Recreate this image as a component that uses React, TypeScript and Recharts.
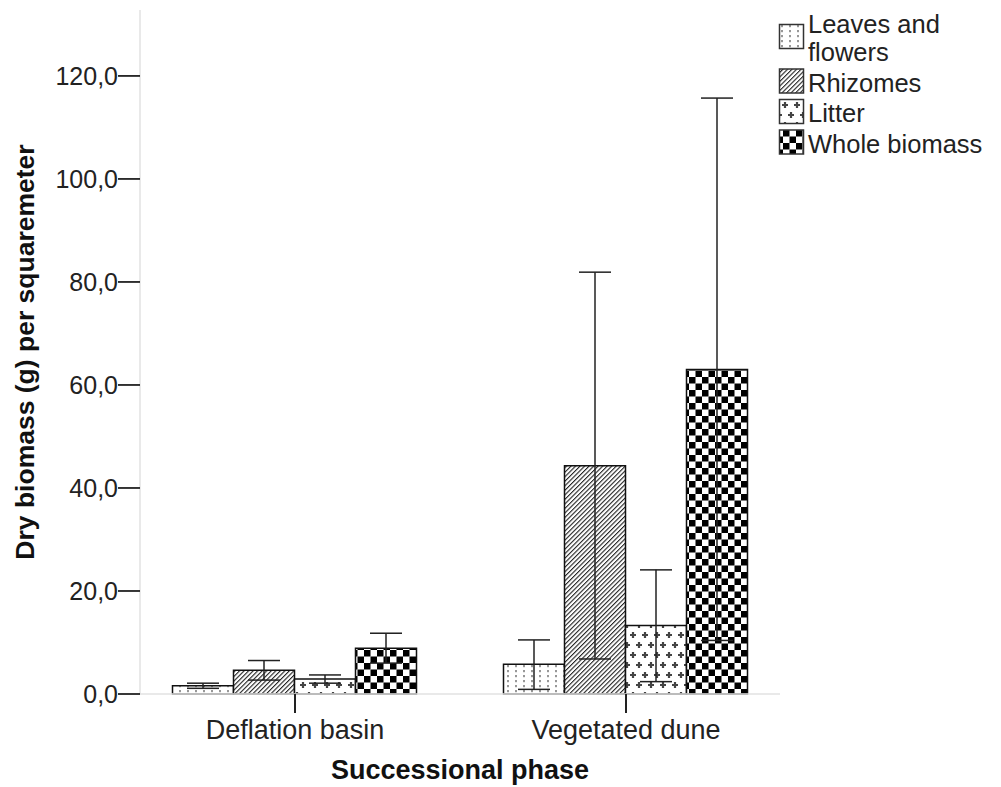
import React from 'react';
import { BarChart, Bar, XAxis, YAxis, ErrorBar, Legend } from 'recharts';

const PHASES = ['Deflation basin', 'Vegetated dune'];

// mean per phase, and the lower / upper ends of its error bar
const LEAVES = [1.6, 5.8];
const LEAVES_LO = [1.1, 0.9];
const LEAVES_HI = [2.1, 10.5];

const RHIZOMES = [4.6, 44.3];
const RHIZOMES_LO = [2.7, 6.8];
const RHIZOMES_HI = [6.5, 81.9];

const LITTER = [2.9, 13.3];
const LITTER_LO = [2.1, 2.4];
const LITTER_HI = [3.7, 24.1];

const WHOLE = [8.9, 63.0];
const WHOLE_LO = [6.0, 10.4];
const WHOLE_HI = [11.8, 115.7];

const Y_TICKS = [0, 20, 40, 60, 80, 100, 120];

const FONT = '"Liberation Sans", Arial, sans-serif';

const SERIES = [
  { key: 'leaves', name: 'Leaves and flowers', mean: LEAVES, lo: LEAVES_LO, hi: LEAVES_HI },
  { key: 'rhizomes', name: 'Rhizomes', mean: RHIZOMES, lo: RHIZOMES_LO, hi: RHIZOMES_HI },
  { key: 'litter', name: 'Litter', mean: LITTER, lo: LITTER_LO, hi: LITTER_HI },
  { key: 'whole', name: 'Whole biomass', mean: WHOLE, lo: WHOLE_LO, hi: WHOLE_HI },
];

const FILLS: Record<string, string> = {
  leaves: 'url(#pat-dots)',
  rhizomes: 'url(#pat-hatch)',
  litter: 'url(#pat-plus)',
  whole: 'url(#pat-check)',
};

const data = PHASES.map((phase, i) => {
  const row: Record<string, any> = { phase };
  SERIES.forEach((s) => {
    row[s.key] = s.mean[i];
    row[s.key + 'Err'] = [s.mean[i] - s.lo[i], s.hi[i] - s.mean[i]];
  });
  return row;
});

const fmt = (v: number) => v.toFixed(1).replace('.', ',');

const PatternDefs = () => (
  <svg width={0} height={0} style={{ position: 'absolute' }}>
    <defs>
      <pattern id="pat-dots" width={8} height={5} patternUnits="userSpaceOnUse">
        <rect width={8} height={5} fill="#fff" />
        <rect x={3.4} y={0} width={1.2} height={2.2} fill="#555" />
      </pattern>
      <pattern id="pat-hatch" width={3.2} height={10} patternUnits="userSpaceOnUse" patternTransform="rotate(45)">
        <rect width={3.2} height={10} fill="#fff" />
        <rect x={0} y={0} width={1.1} height={10} fill="#222" />
      </pattern>
      <pattern id="pat-plus" width={12} height={20} patternUnits="userSpaceOnUse">
        <rect width={12} height={20} fill="#fff" />
        <path d="M3 2v6M0 5h6M9 12v6M6 15h6" stroke="#444" strokeWidth={2.2} />
      </pattern>
      <pattern id="pat-check" width={13} height={13} patternUnits="userSpaceOnUse">
        <rect width={13} height={13} fill="#fff" />
        <rect width={6.5} height={6.5} fill="#000" />
        <rect x={6.5} y={6.5} width={6.5} height={6.5} fill="#000" />
      </pattern>
    </defs>
  </svg>
);

const XTitle = (props: any) => {
  const { viewBox } = props;
  return (
    <text x={viewBox.x + viewBox.width / 2} y={viewBox.y + 85} textAnchor="middle"
      fontFamily={FONT} fontSize={27} fontWeight="bold" fill="#111">
      Successional phase
    </text>
  );
};

const YTitle = (props: any) => {
  const { viewBox } = props;
  const x = viewBox.x + 34;
  const y = viewBox.y + viewBox.height / 2;
  return (
    <text x={x} y={y} transform={`rotate(-90, ${x}, ${y})`} textAnchor="middle"
      fontFamily={FONT} fontSize={26.5} fontWeight="bold" fill="#111">
      Dry biomass (g) per squaremeter
    </text>
  );
};

const wrap = (name: string, max = 13) => {
  const lines: string[] = [];
  let cur = '';
  name.split(' ').forEach((w) => {
    const next = cur ? cur + ' ' + w : w;
    if (next.length > max && cur) {
      lines.push(cur);
      cur = w;
    } else {
      cur = next;
    }
  });
  if (cur) lines.push(cur);
  return lines;
};

const order = (key: any) => SERIES.findIndex((s) => s.key === key);

const renderLegend = (props: any) => {
  const payload = [...(props.payload || [])].sort((a: any, b: any) => order(a.dataKey) - order(b.dataKey));
  let base = 33;
  const items: React.ReactNode[] = [];
  payload.forEach((entry: any) => {
    const lines = wrap(String(entry.value));
    const first = base;
    const last = base + (lines.length - 1) * 28;
    const mid = (first + last) / 2 - 10.5;
    items.push(
      <g key={entry.dataKey}>
        <rect x={9.5} y={mid - 12} width={24} height={24} fill={FILLS[entry.dataKey]} stroke="#333" strokeWidth={1.5} />
        {lines.map((l, i) => (
          <text key={i} x={38} y={first + i * 28} fontFamily={FONT} fontSize={25.5} fill="#222">{l}</text>
        ))}
      </g>,
    );
    base = last + 30.5;
  });
  return (
    <svg width={231} height={170}>
      {items}
    </svg>
  );
};

export default function App() {
  return (
    <div style={{ position: 'absolute', left: 0, top: 0, width: 1001, height: 787, background: '#fff' }}>
      <PatternDefs />
      <BarChart width={1001} height={787} data={data}
        margin={{ top: 10, right: 221, bottom: 0, left: 0 }}
        barCategoryGap={43} barGap={0}>
        <XAxis dataKey="phase" height={93} interval={0}
          padding={{ left: -10.5, right: -11.5 }}
          axisLine={{ stroke: '#e2e2e2', strokeWidth: 1.5 }}
          tickLine={{ stroke: '#222', strokeWidth: 2 }}
          tickSize={19} tickMargin={7}
          tick={{ fill: '#222', fontSize: 27, fontFamily: FONT }}
          label={<XTitle />} />
        <YAxis width={140} domain={[0, 132.8]} ticks={Y_TICKS} tickFormatter={fmt}
          axisLine={{ stroke: '#e2e2e2', strokeWidth: 1.5 }}
          tickLine={{ stroke: '#222', strokeWidth: 1.8 }}
          tickSize={22} tickMargin={0}
          tick={{ fill: '#222', fontSize: 25, fontFamily: FONT }}
          label={<YTitle />} />
        <Legend layout="vertical" align="center" verticalAlign="middle"
          wrapperStyle={{ position: 'absolute', left: 770, top: 0, width: 231, height: 170 }}
          content={renderLegend} />
        {SERIES.map((s) => (
          <Bar key={s.key} dataKey={s.key} name={s.name} fill={FILLS[s.key]}
            stroke="#111" strokeWidth={1.5} isAnimationActive={false}>
            <ErrorBar dataKey={s.key + 'Err'} width={16} stroke="#222" strokeWidth={1.5}
              isAnimationActive={false} />
          </Bar>
        ))}
      </BarChart>
    </div>
  );
}
